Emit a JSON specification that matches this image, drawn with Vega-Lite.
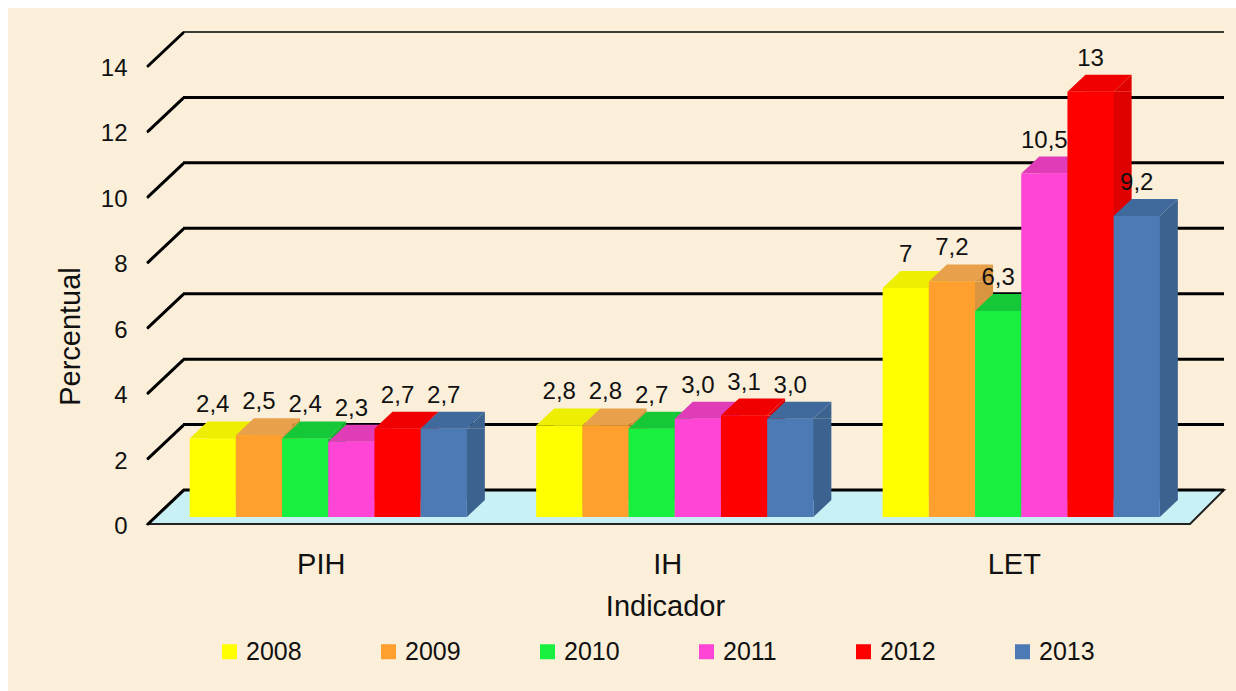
{
"$schema":"https://vega.github.io/schema/vega-lite/v6.json",
"width":1228,"height":683,
"autosize":{"type":"none"},
"padding":{"left":8,"top":8,"right":0,"bottom":0},
"background":"#ffffff",
"view":{"fill":"#fbefd9","stroke":null},
"config":{"font":"Liberation Sans","view":{"stroke":null}},
"datasets":{
"bars":[
{"indicador":"PIH","ano":"2008","valor":2.4,"rotulo":"2,4"},
{"indicador":"PIH","ano":"2009","valor":2.5,"rotulo":"2,5"},
{"indicador":"PIH","ano":"2010","valor":2.4,"rotulo":"2,4"},
{"indicador":"PIH","ano":"2011","valor":2.3,"rotulo":"2,3"},
{"indicador":"PIH","ano":"2012","valor":2.7,"rotulo":"2,7"},
{"indicador":"PIH","ano":"2013","valor":2.7,"rotulo":"2,7"},
{"indicador":"IH","ano":"2008","valor":2.8,"rotulo":"2,8"},
{"indicador":"IH","ano":"2009","valor":2.8,"rotulo":"2,8"},
{"indicador":"IH","ano":"2010","valor":2.7,"rotulo":"2,7"},
{"indicador":"IH","ano":"2011","valor":3.0,"rotulo":"3,0"},
{"indicador":"IH","ano":"2012","valor":3.1,"rotulo":"3,1"},
{"indicador":"IH","ano":"2013","valor":3.0,"rotulo":"3,0"},
{"indicador":"LET","ano":"2008","valor":7,"rotulo":"7"},
{"indicador":"LET","ano":"2009","valor":7.2,"rotulo":"7,2"},
{"indicador":"LET","ano":"2010","valor":6.3,"rotulo":"6,3"},
{"indicador":"LET","ano":"2011","valor":10.5,"rotulo":"10,5"},
{"indicador":"LET","ano":"2012","valor":13,"rotulo":"13"},
{"indicador":"LET","ano":"2013","valor":9.2,"rotulo":"9,2"}
],
"grade":[{"v":0},{"v":2},{"v":4},{"v":6},{"v":8},{"v":10},{"v":12},{"v":14}],
"piso":[{"v":0}]
},
"resolve":{"scale":{"color":"independent","xOffset":"independent"}},
"layer":[
{"data":{"name":"piso"},
 "mark":{"type":"point","filled":true,"opacity":1,"size":4,"fill":"#c9f1f5","stroke":"#222222","strokeWidth":2,"xOffset":-41.65,"yOffset":7,"shape":"M0,0L1042,0L1076,-34L35,-34Z"},
 "encoding":{
  "x":{"datum":"PIH","bandPosition":0},
  "y":{"field":"v","type":"quantitative","scale":{"domain":[0,14],"range":[509,51],"nice":false},
   "axis":{"offset":-140,"domain":false,"ticks":false,"grid":false,"values":[0,2,4,6,8,10,12,14],"labelFontSize":24,"labelColor":"#111111","labelPadding":21,"labelOffset":9.5,"title":"Percentual","titleFontSize":29,"titleFontWeight":"normal","titleColor":"#111111","titleX":-78,"titleY":328,"titleAlign":"center","titleBaseline":"middle","titleAngle":-90}}
 }},
{"data":{"name":"grade"},
 "mark":{"type":"point","filled":false,"opacity":1,"size":4,"stroke":"#000000","xOffset":-41.65,"yOffset":7,"shape":"M35,-34L1076,-34"},
 "encoding":{
  "x":{"datum":"PIH","bandPosition":0},
  "y":{"field":"v","type":"quantitative"},
  "strokeWidth":{"condition":{"test":"datum.v==14","value":1.5},"value":3}
 }},
{"data":{"name":"grade"},
 "mark":{"type":"point","filled":false,"opacity":1,"size":4,"stroke":"#000000","strokeWidth":3,"strokeCap":"round","xOffset":-41.65,"yOffset":7,"shape":"M0,0L35,-33"},
 "encoding":{
  "x":{"datum":"PIH","bandPosition":0},
  "y":{"field":"v","type":"quantitative"}
 }},
{"data":{"name":"bars"},
 "mark":{"type":"bar"},
 "encoding":{
  "x":{"field":"indicador","type":"nominal","sort":["PIH","IH","LET"],"scale":{"range":[147,1186.5],"paddingInner":0.2,"paddingOuter":0.1},
   "axis":{"orient":"bottom","offset":-167,"domain":false,"ticks":false,"labelAngle":0,"labelAlign":"center","labelBaseline":"top","labelFontSize":29,"labelColor":"#111111","labelPadding":26,"labelOffset":-7,"title":"Indicador","titleFontSize":29,"titleFontWeight":"normal","titleColor":"#111111","titleX":657,"titleY":82,"titleBaseline":"middle"}},
  "xOffset":{"field":"ano","type":"nominal","scale":{"range":[18,295.2],"paddingInner":0,"paddingOuter":0}},
  "y":{"field":"valor","type":"quantitative","stack":null},
  "y2":{"datum":0.52},
  "color":{"field":"ano","type":"nominal","legend":null,"scale":{"range":["#d8d800","#d9953f","#10b030","#cf38ac","#df0000","#3c6390"]}}
 }},
{"data":{"name":"bars"},
 "mark":{"type":"point","filled":true,"opacity":1,"size":4,"shape":"M23.1,0L41.1,-17L41.1,0Z"},
 "encoding":{
  "x":{"field":"indicador","type":"nominal","sort":["PIH","IH","LET"]},
  "xOffset":{"field":"ano","type":"nominal","scale":{"type":"band","paddingInner":0,"paddingOuter":0}},
  "y":{"field":"valor","type":"quantitative"},
  "color":{"field":"ano","type":"nominal","legend":null,"scale":{"range":["#d8d800","#d9953f","#10b030","#cf38ac","#df0000","#3c6390"]}}
 }},
{"data":{"name":"bars"},
 "mark":{"type":"point","filled":true,"opacity":1,"size":4,"shape":"M23.1,0L41.1,-17L23.1,-17Z"},
 "encoding":{
  "x":{"field":"indicador","type":"nominal","sort":["PIH","IH","LET"]},
  "xOffset":{"field":"ano","type":"nominal","scale":{"type":"band","paddingInner":0,"paddingOuter":0}},
  "y":{"datum":0},
  "color":{"field":"ano","type":"nominal","legend":null,"scale":{"range":["#d8d800","#d9953f","#10b030","#cf38ac","#df0000","#3c6390"]}}
 }},
{"data":{"name":"bars"},
 "mark":{"type":"point","filled":true,"opacity":1,"size":4,"shape":"M-23.1,0L23.1,0L41.1,-17L-5.1,-17Z"},
 "encoding":{
  "x":{"field":"indicador","type":"nominal","sort":["PIH","IH","LET"]},
  "xOffset":{"field":"ano","type":"nominal","scale":{"type":"band","paddingInner":0,"paddingOuter":0}},
  "y":{"field":"valor","type":"quantitative"},
  "color":{"field":"ano","type":"nominal","legend":null,"scale":{"range":["#eeee00","#e8a04a","#14c838","#e03cb8","#f00000","#406a9c"]}}
 }},
{"data":{"name":"bars"},
 "mark":{"type":"bar"},
 "encoding":{
  "x":{"field":"indicador","type":"nominal","sort":["PIH","IH","LET"]},
  "xOffset":{"field":"ano","type":"nominal","scale":{"paddingInner":0,"paddingOuter":0}},
  "y":{"field":"valor","type":"quantitative","stack":null},
  "color":{"field":"ano","type":"nominal","scale":{"range":["#ffff00","#ff9f2e","#18f040","#ff45d5","#ff0000","#4b7ab5"]},
   "legend":{"orient":"none","legendX":209,"legendY":631,"direction":"horizontal","columns":6,"title":null,"symbolType":"square","symbolSize":225,"symbolStrokeWidth":0,"labelFontSize":25,"labelColor":"#111111","labelOffset":4,"columnPadding":74}}
 }},
{"data":{"name":"bars"},
 "mark":{"type":"text","fontSize":24,"color":"#111111","baseline":"middle","align":"center","yOffset":-33},
 "encoding":{
  "x":{"field":"indicador","type":"nominal","sort":["PIH","IH","LET"]},
  "xOffset":{"field":"ano","type":"nominal","scale":{"type":"band","paddingInner":0,"paddingOuter":0}},
  "y":{"field":"valor","type":"quantitative"},
  "text":{"field":"rotulo","type":"nominal"}
 }}
]
}
